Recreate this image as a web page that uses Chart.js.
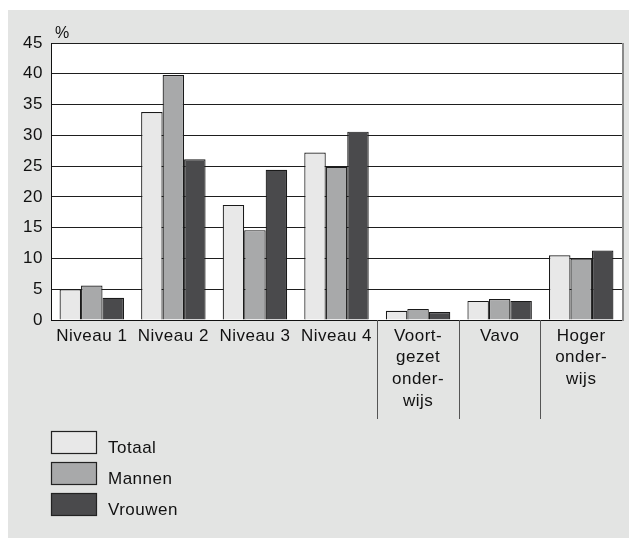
<!DOCTYPE html>
<html>
<head>
<meta charset="utf-8">
<script src="https://cdn.jsdelivr.net/npm/chart.js@4"></script>
<style>
  html, body { margin: 0; padding: 0; background: #ffffff; }
  #wrap { position: relative; width: 629px; height: 538px; }
</style>
</head>
<body>
<div id="wrap"><canvas id="c" width="629" height="538"></canvas></div>
<script>
// ---- data ----
const categories = [
  'Niveau 1', 'Niveau 2', 'Niveau 3', 'Niveau 4',
  ['Voort-', 'gezet', 'onder-', 'wijs'],
  'Vavo',
  ['Hoger', 'onder-', 'wijs']
];
const seriesNames = ['Totaal', 'Mannen', 'Vrouwen'];
const totaal  = [5.0, 33.8, 18.7, 27.2, 1.5, 3.1, 10.5];
const mannen  = [5.6, 39.8, 14.6, 24.9, 1.8, 3.4, 10.0];
const vrouwen = [3.6, 26.1, 24.4, 30.6, 1.3, 3.1, 11.3];
const yTicks  = [0, 5, 10, 15, 20, 25, 30, 35, 40, 45];
const yUnit   = '%';
// separators drawn below the axis between these category indices (boundary before index)
const separatorBefore = [4, 5, 6];

const colors = ['#e8e8e8', '#a8a9aa', '#4a4a4c'];
const FONT = "'Liberation Sans', Arial, Helvetica, sans-serif";
const SPACING = '0.5px';

const spacingPlugin = {
  id: 'spacing',
  beforeUpdate(chart) { chart.ctx.letterSpacing = SPACING; },
  beforeDraw(chart) {
    const ctx = chart.ctx;
    ctx.letterSpacing = SPACING;
    ctx.save();
    ctx.fillStyle = '#ffffff';
    ctx.fillRect(0, 0, chart.width, chart.height);
    ctx.fillStyle = '#e3e4e3';
    ctx.fillRect(8, 10, chart.width - 8, chart.height - 10);
    const a = chart.chartArea;
    ctx.fillStyle = '#ffffff';
    ctx.fillRect(a.left, a.top, a.right - a.left, a.bottom - a.top);
    ctx.restore();
  },
  afterDraw(chart) {
    const ctx = chart.ctx;
    const a = chart.chartArea;
    const xs = chart.scales.x;
    ctx.save();
    // right border
    ctx.strokeStyle = '#8a8a8a';
    ctx.lineWidth = 2;
    ctx.beginPath();
    ctx.moveTo(a.right + 1, a.top);
    ctx.lineTo(a.right + 1, a.bottom + 1);
    ctx.stroke();
    // separators under axis
    ctx.strokeStyle = '#555555';
    ctx.lineWidth = 1;
    separatorBefore.forEach(i => {
      const x = Math.round((xs.getPixelForValue(i - 1) + xs.getPixelForValue(i)) / 2) + 0.5;
      ctx.beginPath();
      ctx.moveTo(x, a.bottom);
      ctx.lineTo(x, a.bottom + 99);
      ctx.stroke();
    });
    // unit label
    ctx.fillStyle = '#111111';
    ctx.font = '16px ' + FONT;
    ctx.textAlign = 'left';
    ctx.textBaseline = 'alphabetic';
    ctx.fillText(yUnit, a.left + 4, a.top - 5);
    // legend
    ctx.font = '17px ' + FONT;
    chart.data.datasets.forEach((ds, i) => {
      const top = 431 + i * 31;
      ctx.fillStyle = ds.backgroundColor;
      ctx.fillRect(51, top, 46, 22);
      ctx.strokeStyle = '#222222';
      ctx.lineWidth = 1.2;
      ctx.strokeRect(51.5, top + 0.5, 45, 22);
      ctx.fillStyle = '#111111';
      ctx.fillText(ds.label, 108, top + 22);
    });
    ctx.restore();
  }
};

const datasets = [totaal, mannen, vrouwen].map((d, i) => ({
  label: seriesNames[i],
  data: d,
  backgroundColor: colors[i],
  borderColor: '#1a1a1a',
  borderWidth: 1.2,
  categoryPercentage: 0.79,
  barPercentage: 1.0
}));

new Chart(document.getElementById('c'), {
  type: 'bar',
  data: { labels: categories, datasets },
  plugins: [spacingPlugin],
  options: {
    responsive: false,
    animation: false,
    devicePixelRatio: 1,
    layout: { padding: { left: 0, top: 43, right: 7, bottom: 0 } },
    plugins: { legend: { display: false }, tooltip: { enabled: false } },
    scales: {
      x: {
        afterFit(s) { s.height = 218; },
        grid: { display: true, drawOnChartArea: false, drawTicks: false },
        border: { display: true, color: '#111111', width: 1 },
        ticks: {
          color: '#111111',
          font: { family: FONT, size: 17, lineHeight: 1.28 },
          padding: 5,
          maxRotation: 0,
          autoSkip: false
        }
      },
      y: {
        min: 0, max: 45,
        afterFit(s) { s.width = 51; },
        afterBuildTicks(s) { s.ticks = yTicks.map(v => ({ value: v })); },
        grid: { color: '#1e1e1e', lineWidth: 1, drawTicks: false },
        border: { display: true, color: '#111111', width: 1 },
        ticks: {
          color: '#111111',
          font: { family: FONT, size: 17 },
          padding: 8
        }
      }
    }
  }
});
</script>
</body>
</html>
